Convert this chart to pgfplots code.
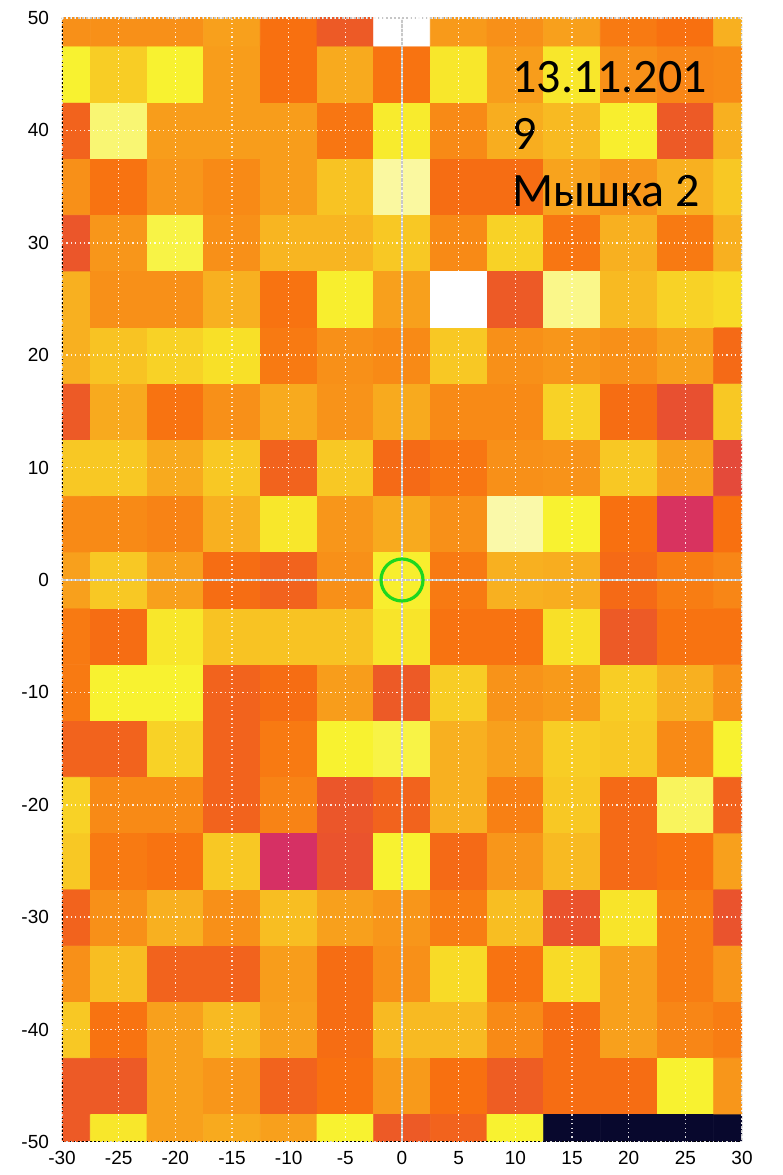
\documentclass[border=0pt]{standalone}
\usepackage{fontspec}
\setmainfont{Carlito}
\newfontfamily\tickfont{Liberation Sans}
\usepackage{pgfplots}
\pgfplotsset{compat=1.18}
\begin{document}
\begin{tikzpicture}
\begin{axis}[
  scale only axis, width=340pt, height=562pt,
  xmin=-30, xmax=30, ymin=-50, ymax=50,
  xtick={-30,-25,...,30}, ytick={-50,-40,...,50},
  major tick length=0pt,
  tick label style={font=\tickfont\fontsize{9.5}{11}\selectfont},
  /pgf/number format/assume math mode=true,
  axis line style={draw=none},
  grid=major, grid style={white, dash pattern=on 0.6pt off 1.6pt, line width=0.8pt, opacity=0.85},
  axis on top,
  colormap={hotmap}{rgb255(0pt)=(8,8,45); rgb255(15pt)=(110,20,100); rgb255(30pt)=(214,48,100); rgb255(40pt)=(232,80,48); rgb255(45pt)=(240,96,32); rgb255(50pt)=(248,112,16); rgb255(60pt)=(248,144,24); rgb255(70pt)=(248,176,32); rgb255(80pt)=(248,224,40); rgb255(85pt)=(248,242,48); rgb255(90pt)=(250,248,160); rgb255(100pt)=(255,255,255)},
  point meta min=0, point meta max=10,
  yticklabel style={xshift=-3pt},
  xticklabel style={yshift=-1pt},
]
\addplot[matrix plot*, mesh/cols=13, point meta=explicit] table[row sep=\\, meta=c] {
x y c\\
-30 -50 4.3\\ -25 -50 8.2\\ -20 -50 6.5\\ -15 -50 6.8\\ -10 -50 6.5\\ -5 -50 8.5\\ 0 -50 4.3\\ 5 -50 4.6\\ 10 -50 8.5\\ 15 -50 0\\ 20 -50 0\\ 25 -50 0\\ 30 -50 0\\
-30 -45 4.3\\ -25 -45 4.3\\ -20 -45 6.5\\ -15 -45 6.2\\ -10 -45 4.6\\ -5 -45 5.0\\ 0 -45 6.3\\ 5 -45 5.0\\ 10 -45 4.4\\ 15 -45 4.9\\ 20 -45 4.9\\ 25 -45 8.5\\ 30 -45 6.2\\
-30 -40 7.5\\ -25 -40 5.1\\ -20 -40 6.5\\ -15 -40 7.2\\ -10 -40 6.5\\ -5 -40 4.9\\ 0 -40 7.2\\ 5 -40 7.2\\ 10 -40 5.8\\ 15 -40 4.9\\ 20 -40 6.5\\ 25 -40 5.7\\ 30 -40 5.4\\
-30 -35 6.0\\ -25 -35 7.3\\ -20 -35 4.6\\ -15 -35 4.6\\ -10 -35 6.4\\ -5 -35 4.9\\ 0 -35 6.0\\ 5 -35 7.9\\ 10 -35 5.1\\ 15 -35 7.9\\ 20 -35 6.5\\ 25 -35 5.4\\ 30 -35 6.2\\
-30 -30 4.6\\ -25 -30 6.0\\ -20 -30 7.0\\ -15 -30 6.0\\ -10 -30 7.3\\ -5 -30 6.5\\ 0 -30 6.2\\ 5 -30 5.4\\ 10 -30 7.3\\ 15 -30 4.1\\ 20 -30 8.1\\ 25 -30 5.4\\ 30 -30 4.1\\
-30 -25 7.5\\ -25 -25 5.3\\ -20 -25 5.1\\ -15 -25 7.5\\ -10 -25 3.0\\ -5 -25 4.1\\ 0 -25 8.5\\ 5 -25 4.8\\ 10 -25 6.2\\ 15 -25 7.2\\ 20 -25 4.8\\ 25 -25 5.0\\ 30 -25 6.5\\
-30 -20 7.7\\ -25 -20 5.8\\ -20 -20 5.8\\ -15 -20 4.6\\ -10 -20 5.6\\ -5 -20 4.2\\ 0 -20 4.6\\ 5 -20 7.0\\ 10 -20 5.5\\ 15 -20 7.5\\ 20 -20 4.8\\ 25 -20 8.7\\ 30 -20 4.6\\
-30 -15 4.6\\ -25 -15 4.6\\ -20 -15 7.7\\ -15 -15 4.6\\ -10 -15 5.3\\ -5 -15 8.5\\ 0 -15 8.6\\ 5 -15 7.0\\ 10 -15 6.5\\ 15 -15 7.6\\ 20 -15 7.5\\ 25 -15 5.8\\ 30 -15 8.5\\
-30 -10 5.3\\ -25 -10 8.5\\ -20 -10 8.5\\ -15 -10 4.6\\ -10 -10 4.9\\ -5 -10 6.4\\ 0 -10 4.3\\ 5 -10 7.6\\ 10 -10 6.1\\ 15 -10 6.3\\ 20 -10 7.6\\ 25 -10 7.0\\ 30 -10 6.0\\
-30 -5 5.3\\ -25 -5 4.9\\ -20 -5 8.2\\ -15 -5 7.4\\ -10 -5 7.4\\ -5 -5 7.4\\ 0 -5 8.1\\ 5 -5 5.1\\ 10 -5 5.1\\ 15 -5 8.0\\ 20 -5 4.3\\ 25 -5 5.1\\ 30 -5 5.1\\
-30 0 6.5\\ -25 0 7.5\\ -20 0 6.5\\ -15 0 4.9\\ -10 0 4.6\\ -5 0 6.0\\ 0 0 8.4\\ 5 0 5.3\\ 10 0 7.0\\ 15 0 6.9\\ 20 0 4.8\\ 25 0 5.4\\ 30 0 5.7\\
-30 5 5.8\\ -25 5 5.8\\ -20 5 5.6\\ -15 5 7.0\\ -10 5 8.2\\ -5 5 6.2\\ 0 5 6.8\\ 5 5 6.0\\ 10 5 9.1\\ 15 5 8.5\\ 20 5 5.0\\ 25 5 3.1\\ 30 5 5.0\\
-30 10 7.5\\ -25 10 7.5\\ -20 10 6.8\\ -15 10 7.5\\ -10 10 4.6\\ -5 10 7.5\\ 0 10 4.8\\ 5 10 5.2\\ 10 10 6.0\\ 15 10 6.1\\ 20 10 7.5\\ 25 10 6.5\\ 30 10 3.8\\
-30 15 4.3\\ -25 15 6.8\\ -20 15 5.1\\ -15 15 6.0\\ -10 15 6.8\\ -5 15 6.1\\ 0 15 6.8\\ 5 15 5.8\\ 10 15 5.8\\ 15 15 7.7\\ 20 15 4.9\\ 25 15 4.0\\ 30 15 7.5\\
-30 20 7.0\\ -25 20 7.4\\ -20 20 7.7\\ -15 20 8.0\\ -10 20 5.3\\ -5 20 6.0\\ 0 20 5.8\\ 5 20 7.5\\ 10 20 6.0\\ 15 20 6.2\\ 20 20 6.0\\ 25 20 6.5\\ 30 20 4.8\\
-30 25 7.0\\ -25 25 6.0\\ -20 25 6.0\\ -15 25 7.0\\ -10 25 5.1\\ -5 25 8.4\\ 0 25 6.5\\ 5 25 10\\ 10 25 4.3\\ 15 25 8.9\\ 20 25 7.2\\ 25 25 7.7\\ 30 25 7.9\\
-30 30 4.2\\ -25 30 6.2\\ -20 30 8.6\\ -15 30 6.0\\ -10 30 7.1\\ -5 30 7.1\\ 0 30 7.5\\ 5 30 5.8\\ 10 30 7.7\\ 15 30 5.2\\ 20 30 7.0\\ 25 30 5.3\\ 30 30 7.0\\
-30 35 6.0\\ -25 35 5.1\\ -20 35 6.2\\ -15 35 5.8\\ -10 35 6.4\\ -5 35 7.4\\ 0 35 9.0\\ 5 35 4.9\\ 10 35 4.9\\ 15 35 6.6\\ 20 35 6.2\\ 25 35 7.0\\ 30 35 7.5\\
-30 40 4.6\\ -25 40 8.8\\ -20 40 6.4\\ -15 40 6.4\\ -10 40 6.4\\ -5 40 5.2\\ 0 40 8.3\\ 5 40 5.8\\ 10 40 6.9\\ 15 40 7.2\\ 20 40 8.4\\ 25 40 4.3\\ 30 40 7.0\\
-30 45 8.5\\ -25 45 7.6\\ -20 45 8.5\\ -15 45 6.4\\ -10 45 5.0\\ -5 45 6.8\\ 0 45 5.1\\ 5 45 8.2\\ 10 45 6.4\\ 15 45 8.2\\ 20 45 6.0\\ 25 45 5.7\\ 30 45 5.8\\
-30 50 6.0\\ -25 50 6.0\\ -20 50 6.0\\ -15 50 6.5\\ -10 50 5.0\\ -5 50 4.3\\ 0 50 10\\ 5 50 6.3\\ 10 50 6.0\\ 15 50 6.5\\ 20 50 5.3\\ 25 50 5.0\\ 30 50 7.0\\
};
\addplot[color={rgb,255:red,200;green,200;blue,200}, line width=1pt] coordinates {(0,-50) (0,50)};
\addplot[color={rgb,255:red,200;green,200;blue,200}, line width=1pt] coordinates {(-30,0) (30,0)};
\addplot[only marks, mark=o, mark size=10.5pt, mark options={line width=1.6pt, draw={rgb,255:red,30;green,215;blue,30}}] coordinates {(0,0)};
\draw[black, dash pattern=on 1.2pt off 0.8pt, line width=1.2pt] (rel axis cs:0,1) -- (rel axis cs:0,0) -- (rel axis cs:1,0);
\draw[gray!45, dash pattern=on 0.8pt off 1.2pt, line width=0.8pt] (rel axis cs:0,1) -- (rel axis cs:1,1) -- (rel axis cs:1,0);
\node[anchor=base west, inner sep=0pt, font=\fontsize{24}{28}\selectfont] at (axis cs:9.7,43.33) {13.11.201};
\node[anchor=base west, inner sep=0pt, font=\fontsize{24}{28}\selectfont] at (axis cs:9.7,38.26) {9};
\node[anchor=base west, inner sep=0pt, font=\fontsize{24}{28}\selectfont] at (axis cs:9.7,33.19) {Мышка 2};
\end{axis}
\pgfresetboundingbox
\path ([shift={(-31pt,-16.5pt)}]current axis.south west) rectangle ([shift={(20pt,9pt)}]current axis.north east);
\end{tikzpicture}
\end{document}
